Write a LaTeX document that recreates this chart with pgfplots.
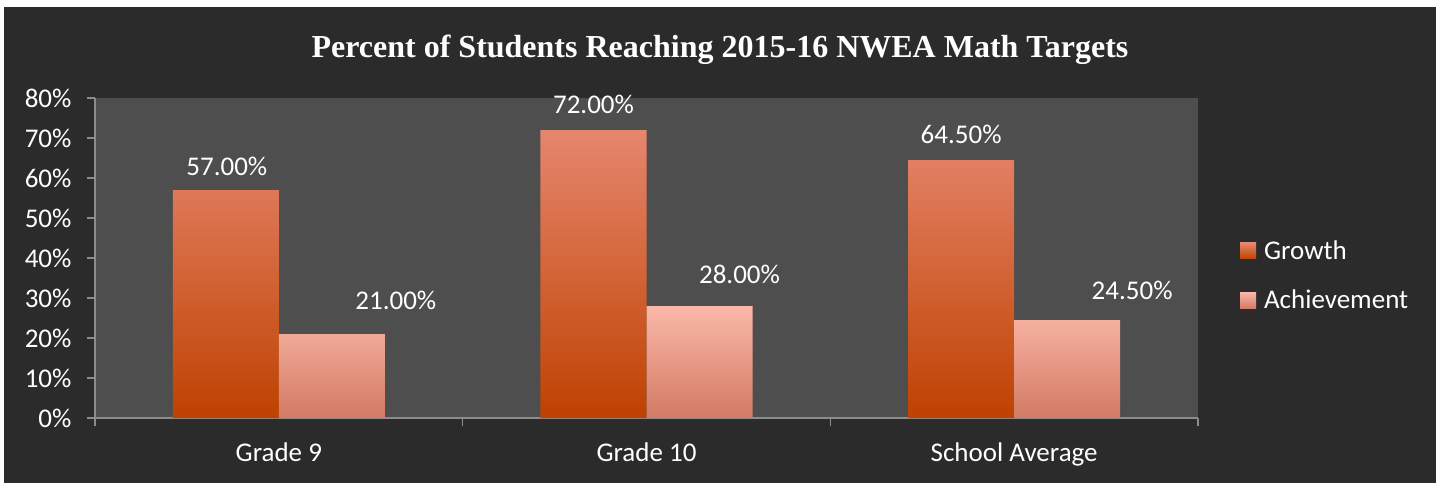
\documentclass[border=0pt]{standalone}
\usepackage{pgfplots}
\pgfplotsset{compat=1.18}
\usepackage{pgfplotstable}
\usepackage{fontspec}
\setmainfont{Carlito}
\newfontfamily\titlefont{Liberation Serif}
\definecolor{bgdark}{RGB}{43,43,43}
\definecolor{plotbg}{RGB}{78,78,78}
\definecolor{axgray}{RGB}{140,140,140}
\definecolor{gtop}{RGB}{230,134,110}
\definecolor{gmid}{RGB}{212,88,24}
\definecolor{gbot}{RGB}{190,66,0}
\definecolor{atop}{RGB}{251,184,168}
\definecolor{amid}{RGB}{236,150,128}
\definecolor{abot}{RGB}{210,122,100}
\pgfplotstableread{
x g gdx gdy a adx ady
0 57   1  15 21   64 25
1 72   0  17 28   40 23
2 64.5 0  17 24.5 65 21
}\data
\begin{document}
\begin{tikzpicture}[x=1pt,y=1pt]
\fill[white] (0,0) rectangle (1447,-483);
\fill[bgdark] (4,-7) rectangle (1436,-483);
\node[text=white, anchor=base, font=\titlefont\bfseries\fontsize{32}{38}\selectfont] at (720,-57) {Percent of Students Reaching 2015-16 NWEA Math Targets};
\begin{axis}[
  at={(95pt,-418pt)}, anchor=south west,
  scale only axis, width=1103pt, height=320pt,
  axis background/.style={fill=plotbg},
  axis lines*=left,
  axis line style={draw=axgray, line width=1.5pt},
  tick style={draw=axgray, line width=1.5pt},
  tick align=outside, major tick length=8pt,
  xmin=-0.5, xmax=2.5, ymin=0, ymax=80,
  ytick={0,10,...,80},
  yticklabels={0\%,10\%,20\%,30\%,40\%,50\%,60\%,70\%,80\%},
  yticklabel style={xshift=-12pt},
  xtick={-0.5,0.5,1.5,2.5}, xticklabels={},
  extra x ticks={0,1,2},
  extra x tick labels={Grade 9,Grade 10,School Average},
  extra x tick style={major tick length=0pt, tick label style={anchor=base, yshift=-43pt}},
  ticklabel style={text=white, font=\fontsize{27}{32}\selectfont},
  ybar=0pt, bar width=106pt,
  /pgf/number format/assume math mode=true,
  nodes near coords={\pgfmathprintnumber[fixed,fixed zerofill,precision=2]{\pgfplotspointmeta}\%},
  every node near coord/.append style={text=white, font=\fontsize{27}{32}\selectfont, anchor=base, inner sep=0pt},
  legend image code/.code={\fill[#1] (0pt,-8pt) rectangle (16pt,8pt); \path (22pt,0pt);},
  legend style={at={(axis description cs:1.038,0.445)}, anchor=west, draw=none, fill=none, text=white,
    font=\fontsize{27}{32}\selectfont, row sep=25pt, inner sep=0pt},
  legend cell align=left,
  clip=false,
]
\addplot[draw=none, top color=gtop, middle color=gmid, bottom color=gbot,
  visualization depends on={\thisrow{gdx}\as\mydx},
  visualization depends on={\thisrow{gdy}\as\mydy},
  every node near coord/.append style={xshift=\mydx pt, yshift=\mydy pt}]
  table[x=x, y=g] {\data};
\addlegendentry{Growth}
\addplot[draw=none, top color=atop, middle color=amid, bottom color=abot,
  visualization depends on={\thisrow{adx}\as\mydx},
  visualization depends on={\thisrow{ady}\as\mydy},
  every node near coord/.append style={xshift=\mydx pt, yshift=\mydy pt}]
  table[x=x, y=a] {\data};
\addlegendentry{Achievement}
\end{axis}
\end{tikzpicture}
\end{document}
